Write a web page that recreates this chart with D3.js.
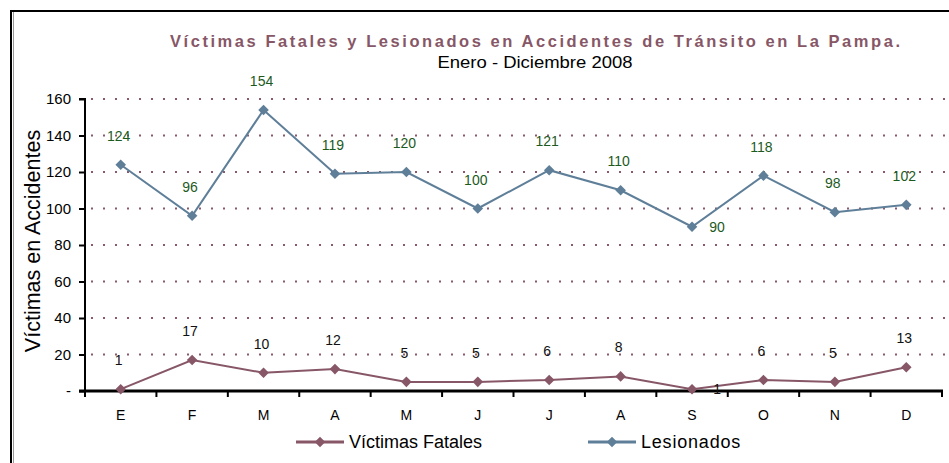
<!DOCTYPE html>
<html>
<head>
<meta charset="utf-8">
<script src="https://cdn.jsdelivr.net/npm/d3@7"></script>
<style>
  body { margin: 0; background: #fff; }
  svg { font-family: "Liberation Sans", Arial, sans-serif; }
  .grid line { stroke: #8a5a6c; stroke-width: 2; stroke-dasharray: 2,10; }
  .annotation { font-size: 14px; text-anchor: middle; }
</style>
</head>
<body>
<svg width="949" height="463"></svg>
<script>
var months = ['E', 'F', 'M', 'A', 'M', 'J', 'J', 'A', 'S', 'O', 'N', 'D'];
var fatales = [1, 17, 10, 12, 5, 5, 6, 8, 1, 6, 5, 13];
var lesionados = [124, 96, 154, 119, 120, 100, 121, 110, 90, 118, 98, 102];
var yTicks = [0, 20, 40, 60, 80, 100, 120, 140, 160];

var series = [
  {label: 'Víctimas Fatales', values: fatales, color: '#875767', text: '#111'},
  {label: 'Lesionados', values: lesionados, color: '#5f7f99', text: '#1d5a1d'}
];

var svg = d3.select('svg');
var plot = {left: 85, right: 942, top: 99, bottom: 391};

// frame
svg.append('path')
  .attr('d', 'M11,463 V11 H949')
  .attr('fill', 'none')
  .attr('stroke', '#000')
  .attr('stroke-width', 2);
svg.append('line')
  .attr('x1', 13.5).attr('x2', 13.5).attr('y1', 12).attr('y2', 463)
  .attr('stroke', '#999').attr('stroke-width', 1);

// titles
svg.append('text')
  .attr('x', 535).attr('y', 47)
  .attr('text-anchor', 'middle')
  .attr('fill', '#875767')
  .attr('font-size', 16.5).attr('font-weight', 'bold')
  .attr('textLength', 730).attr('lengthAdjust', 'spacing')
  .text('Víctimas Fatales y Lesionados en Accidentes de Tránsito en  La Pampa.');
svg.append('text')
  .attr('x', 535).attr('y', 68)
  .attr('text-anchor', 'middle')
  .attr('font-size', 16)
  .attr('textLength', 195).attr('lengthAdjust', 'spacingAndGlyphs')
  .text('Enero -  Diciembre 2008');

var x = d3.scaleBand().domain(d3.range(months.length)).range([plot.left, plot.right]);
var y = d3.scaleLinear().domain([0, 160]).range([plot.bottom, plot.top]);
var cx = function(i) { return x(i) + x.bandwidth() / 2; };

// gridlines
svg.append('g').classed('grid', true)
  .selectAll('line')
  .data(yTicks.filter(function(d) { return d > 0; }))
  .enter()
    .append('line')
    .attr('x1', plot.left + 6).attr('x2', 946)
    .attr('y1', function(d) { return y(d); })
    .attr('y2', function(d) { return y(d); });

// y axis
var yAxis = svg.append('g')
  .attr('transform', 'translate(' + plot.left + ',0)')
  .call(d3.axisLeft(y).tickValues(yTicks).tickSize(6).tickPadding(8)
    .tickFormat(function(d) { return d === 0 ? '-' : d; }));
yAxis.select('.domain').attr('stroke-width', 2).attr('d', 'M-6,' + plot.top + 'H0V' + plot.bottom);
yAxis.selectAll('.tick line').attr('stroke-width', 2);
yAxis.selectAll('text').attr('font-size', 15).attr('font-family', 'Liberation Sans');

// x axis
var xAxis = svg.append('g')
  .attr('transform', 'translate(0,' + plot.bottom + ')');
xAxis.append('line')
  .attr('x1', plot.left - 6).attr('x2', plot.right + 1)
  .attr('stroke', '#000').attr('stroke-width', 3);
xAxis.selectAll('line.tick')
  .data(d3.range(months.length + 1))
  .enter()
    .append('line')
    .classed('tick', true)
    .attr('x1', function(d) { return plot.left + d * x.step(); })
    .attr('x2', function(d) { return plot.left + d * x.step(); })
    .attr('y1', 0).attr('y2', 6)
    .attr('stroke', '#000').attr('stroke-width', 2);
xAxis.selectAll('text')
  .data(months)
  .enter()
    .append('text')
    .attr('x', function(d, i) { return cx(i); })
    .attr('y', 29)
    .attr('text-anchor', 'middle')
    .attr('font-size', 14)
    .text(function(d) { return d; });

svg.append('text')
  .attr('transform', 'translate(40,241) rotate(-90)')
  .attr('text-anchor', 'middle')
  .attr('font-size', 21.5)
  .text('Víctimas en Accidentes');

// diamonds: squares turned 45 degrees
var diamond = d3.symbol().type(d3.symbolSquare).size(56);
var line = d3.line()
  .x(function(d, i) { return cx(i); })
  .y(function(d) { return y(d); });

// series
var groups = svg.selectAll('g.series')
  .data(series)
  .enter()
    .append('g')
    .classed('series', true);

groups.append('path')
  .attr('d', function(d) { return line(d.values); })
  .attr('fill', 'none')
  .attr('stroke', function(d) { return d.color; })
  .attr('stroke-width', 2);

groups.each(function(s) {
  var g = d3.select(this);
  g.selectAll('path.marker')
    .data(s.values)
    .enter()
      .append('path')
      .classed('marker', true)
      .attr('d', diamond)
      .attr('fill', s.color)
      .attr('transform', function(d, i) { return 'translate(' + cx(i) + ',' + y(d) + ') rotate(45)'; });

  // labels sit above the point, except in S (index 8) where they go to the right
  g.selectAll('text.annotation')
    .data(s.values)
    .enter()
      .append('text')
      .classed('annotation', true)
      .attr('fill', s.text)
      .attr('x', function(d, i) { return i === 8 ? cx(i) + 25 : cx(i) - 2; })
      .attr('y', function(d, i) { return i === 8 ? y(d) + 5 : y(d) - 24; })
      .text(function(d) { return d; });
});

// legend
var legend = svg.selectAll('g.legend')
  .data(series)
  .enter()
    .append('g')
    .classed('legend', true)
    .attr('transform', function(d, i) { return 'translate(' + (296 + i * 292) + ',442)'; });
legend.append('line')
  .attr('x1', 0).attr('x2', 48)
  .attr('stroke', function(d) { return d.color; })
  .attr('stroke-width', 3);
legend.append('path')
  .attr('d', diamond)
  .attr('transform', 'translate(24,0) rotate(45)')
  .attr('fill', function(d) { return d.color; });
legend.append('text')
  .attr('x', 53).attr('y', 6)
  .attr('font-size', 18)
  .attr('letter-spacing', function(d, i) { return i ? 0.8 : 0; })
  .text(function(d) { return d.label; });
</script>
</body>
</html>
